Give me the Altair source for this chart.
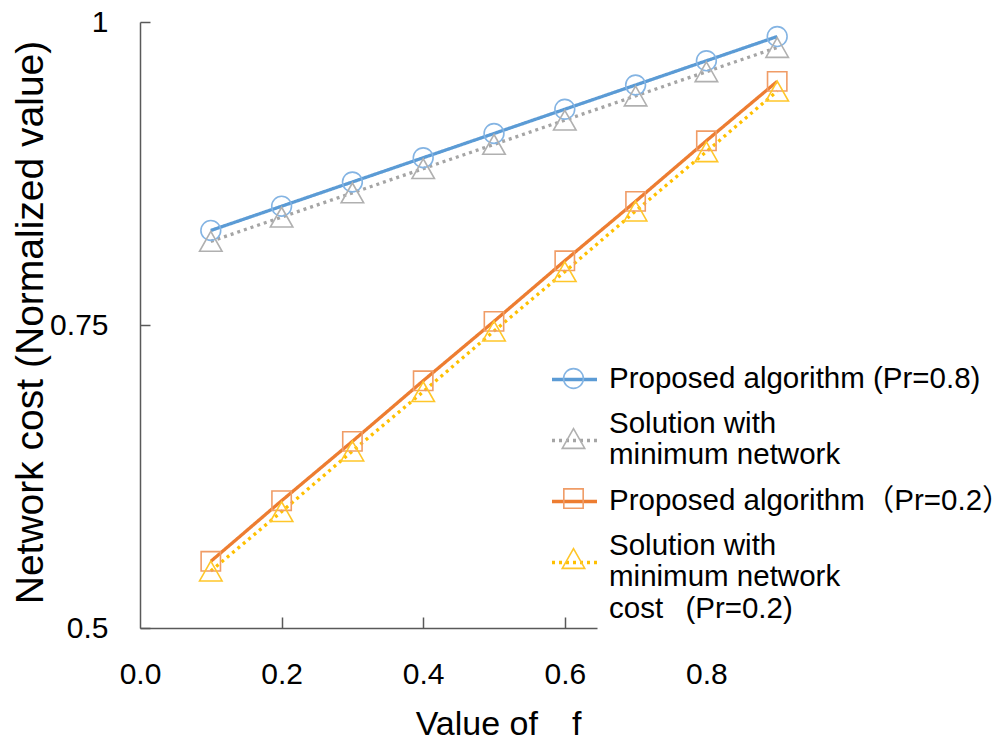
import altair as alt
import pandas as pd

# ---- data ----
f_values = [0.1, 0.2, 0.3, 0.4, 0.5, 0.6, 0.7, 0.8, 0.9]
proposed_08 = [0.828, 0.848, 0.868, 0.888, 0.908, 0.928, 0.948, 0.968, 0.988]
minimum_08 = [0.819, 0.839, 0.859, 0.879, 0.899, 0.919, 0.939, 0.959, 0.979]
proposed_02 = [0.555, 0.605, 0.654, 0.704, 0.753, 0.803, 0.852, 0.902, 0.951]
minimum_02 = [0.547, 0.596, 0.646, 0.695, 0.745, 0.794, 0.844, 0.893, 0.943]

series_labels = [
    "Proposed algorithm (Pr=0.8)",
    "Solution with|minimum network",
    "Proposed algorithm（Pr=0.2）",
    "Solution with|minimum network|cost\u00a0\u00a0\u2009(Pr=0.2)",
]
x_ticks = [0.0, 0.2, 0.4, 0.6, 0.8]
y_ticks = [0.5, 0.75, 1.0]

# ---- styles ----
FONT = "Liberation Sans, Arial, Noto Sans CJK JP, sans-serif"
AXIS_GRAY = "#595959"
line_colors = ["#5b9bd5", "#a5a5a5", "#ed7d31", "#ffc000"]
marker_colors = ["#84b4e3", "#b0b0b0", "#f09c66", "#ffc62a"]
dashes = [[1, 0], [3, 4], [1, 0], [3, 4]]
circle_path = "M0.44,0A0.44,0.44,0,1,1,-0.44,0A0.44,0.44,0,1,1,0.44,0Z"
square_path = "M-0.43,-0.43H0.43V0.43H-0.43Z"
tri_path = "M0,-0.44L0.5,0.44L-0.5,0.44Z"
shapes = [circle_path, tri_path, square_path, tri_path]

rows = []
for name, vals in zip(series_labels, [proposed_08, minimum_08, proposed_02, minimum_02]):
    for fv, v in zip(f_values, vals):
        rows.append({"f": fv, "cost": v, "series": name})
df = pd.DataFrame(rows)

LEG_X = 410
LEG_FONT = 29.5


def symbol_legend(stroke_w):
    # symbols only, evenly spaced rows; labels kept invisible
    return alt.Legend(
        title=None, orient="none", legendX=LEG_X, legendY=333, padding=0,
        symbolSize=2025, symbolStrokeWidth=stroke_w,
        labelFont=FONT, labelFontSize=30, labelColor="transparent",
        labelExpr="'x'", labelOffset=10, rowPadding=21,
    )


text_legend = alt.Legend(
    title=None, orient="none", legendX=LEG_X, legendY=332, padding=0,
    symbolType="stroke", symbolSize=2025, symbolStrokeWidth=3.3, symbolOpacity=0,
    labelFont=FONT, labelFontSize=LEG_FONT, labelColor="#000000",
    labelLimit=800, labelOffset=10, rowPadding=6,
    labelExpr="split(datum.label, '|')",
)

x_enc = alt.X(
    "f:Q",
    scale=alt.Scale(domain=[0, 1], nice=False, zero=False),
    axis=alt.Axis(
        values=x_ticks, format=".1f", labelFont=FONT, labelFontSize=30,
        labelColor="#000000", labelPadding=31, ticks=False, tickSize=0,
        labelFlush=False, labelOverlap=False,
        domainDash=[457, 3000],
        grid=True, gridColor=AXIS_GRAY, gridWidth=1.5,
        gridDash=[11, 2000], gridDashOffset=1416,
        gridOpacity={"condition": {"test": "datum.value > 0.1 && datum.value < 0.7", "value": 1}, "value": 0},
        title="Value of\u3000f", titleFont=FONT, titleFontSize=34,
        titleFontWeight="normal", titleColor="#000000",
        titleX=358, titleY=106, titleBaseline="alphabetic",
    ),
)
y_enc = alt.Y(
    "cost:Q",
    scale=alt.Scale(domain=[0.5, 1], nice=False, zero=False),
    axis=alt.Axis(
        values=y_ticks, labelExpr="'' + datum.value", labelFont=FONT,
        labelFontSize=30, labelColor="#000000", labelPadding=32,
        ticks=False, tickSize=0, labelFlush=False, labelOverlap=False,
        grid=True, gridColor=AXIS_GRAY, gridWidth=1.5, gridDash=[10, 2000],
        title="Network cost (Normalized value)", titleFont=FONT,
        titleFontSize=39, titleFontWeight="normal", titleColor="#000000",
        titleX=-98, titleY=300, titleAngle=270, titleBaseline="alphabetic",
    ),
)

legend_lines = symbol_legend(3.3)
legend_marks = symbol_legend(1.6)

lines = alt.Chart(df).mark_line(strokeWidth=3.3).encode(
    x=x_enc,
    y=y_enc,
    color=alt.Color("series:N", scale=alt.Scale(domain=series_labels, range=line_colors), legend=legend_lines),
    strokeDash=alt.StrokeDash("series:N", scale=alt.Scale(domain=series_labels, range=dashes), legend=legend_lines),
    order="f:Q",
)

points = alt.Chart(df).mark_point(filled=False, size=2025, strokeWidth=1.6, opacity=1).encode(
    x=alt.X("f:Q"),
    y=alt.Y("cost:Q"),
    color=alt.Color("series:N", scale=alt.Scale(domain=series_labels, range=marker_colors), legend=legend_marks),
    shape=alt.Shape("series:N", scale=alt.Scale(domain=series_labels, range=shapes), legend=legend_marks),
)

# legend text entries (the layer itself draws nothing visible)
legend_text = alt.Chart(df).mark_point(opacity=0, size=1).encode(
    x=alt.X("f:Q"),
    y=alt.Y("cost:Q"),
    color=alt.Color("series:N", scale=alt.Scale(domain=series_labels, range=line_colors), legend=text_legend),
)

chart = (
    alt.layer(lines, points, legend_text)
    .resolve_scale(color="independent", shape="independent", strokeDash="independent")
    .resolve_legend(color="independent", shape="independent", strokeDash="independent")
    .properties(
        width=708, height=606,
        padding={"left": 132, "top": 14, "right": 150, "bottom": 114},
        autosize=alt.AutoSizeParams(type="none"),
        background="white",
    )
    .configure_view(stroke=None)
    .configure_axis(domainColor=AXIS_GRAY, domainWidth=1.5)
)

chart.save("out.html", embed_options={"renderer": "svg", "actions": False})
